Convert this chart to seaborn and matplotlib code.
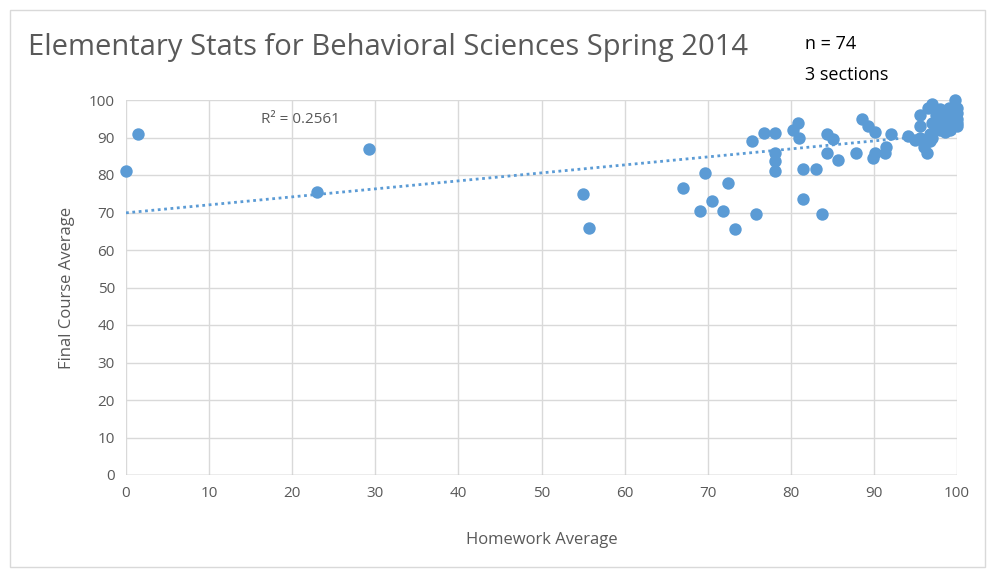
import numpy as np
import pandas as pd
import matplotlib
matplotlib.use("Agg")
import matplotlib.pyplot as plt
import seaborn as sns

homework = [0, 1.5, 23, 29.3, 55, 55.7, 67, 69.1, 69.7, 70.5, 71.8, 72.4, 73.3, 75.8,
            75.3, 76.8, 78.1, 78.1, 78.1, 78.1, 80.3, 80.9, 81, 81.5, 83, 81.5, 83.8,
            84.4, 85.1, 84.4, 85.7, 87.8, 88.6, 89.3, 90.1, 89.9, 90.1, 91.3, 91.4, 92,
            94.1, 94.9, 96.4, 99.8, 97, 96.5, 95.6, 97, 95.6, 98.8, 100, 100, 99.2, 98,
            96.8, 95.6, 96.8, 97.5, 98, 98.5, 99, 99.5, 100, 100, 98, 99, 97.5, 98.5,
            97, 96, 99.5, 98.5, 100, 97.8]
final = [81, 91, 75.5, 87, 75, 66, 76.5, 70.5, 80.5, 73, 70.5, 78, 65.5, 69.5,
         89, 91.3, 91.3, 86, 83.7, 81, 92, 94, 90, 81.5, 81.5, 73.5, 69.5,
         91, 89.5, 86, 84, 86, 95, 93, 91.5, 84.5, 86, 86, 87.5, 91,
         90.3, 89.3, 86, 100, 99, 98, 96, 94, 93, 97, 98, 95, 92, 92,
         91, 90, 89, 96, 95, 94, 96, 94, 96.5, 93, 97.5, 98, 92.5, 91.5,
         90, 87.5, 97, 93, 94, 94.5]
x_ticks = list(range(0, 101, 10))
y_ticks = list(range(0, 101, 10))

title = "Elementary Stats for Behavioral Sciences Spring 2014"
note_lines = ["n = 74", "3 sections"]
r2_label = "R² = 0.2561"
x_label = "Homework Average"
y_label = "Final Course Average"

df = pd.DataFrame({"hw": homework, "final": final})

sns.set_theme(style="whitegrid")
plt.rcParams["font.family"] = ["Open Sans", "DejaVu Sans"]

W, H = 988, 577
fig = plt.figure(figsize=(W / 100, H / 100), dpi=100)
ax = fig.add_axes([126 / W, 1 - 475 / H, (957 - 126) / W, (475 - 100) / H])

blue = "#5B9BD5"
gray_text = "#595959"

sns.scatterplot(data=df, x="hw", y="final", ax=ax, color=blue, s=80,
                edgecolor=blue, linewidth=0, clip_on=False, zorder=3)
sns.regplot(data=df, x="hw", y="final", ax=ax, scatter=False, ci=None, truncate=True,
            line_kws={"color": blue, "ls": (0, (1, 1.3)), "lw": 2.0, "zorder": 2})

ax.set_xlim(0, 100)
ax.set_ylim(0, 100)
ax.set_xticks(x_ticks)
ax.set_yticks(y_ticks)
ax.grid(True, color="#D9D9D9", lw=1)
for s in ax.spines.values():
    s.set_visible(False)
ax.axhline(0, color="#BFBFBF", lw=1, zorder=1)
ax.tick_params(axis="both", colors=gray_text, labelsize=11, length=0, pad=8)
ax.set_xlabel(x_label, color=gray_text, fontsize=12, labelpad=22)
ax.set_ylabel(y_label, color=gray_text, fontsize=12, labelpad=10)

ax.text(21, 94.7, r2_label, fontsize=11, color=gray_text, ha="center", va="center")

fig.text(28 / W, 1 - 47 / H, title, fontsize=21, color=gray_text, va="center", ha="left")
fig.text(805 / W, 1 - 44 / H, note_lines[0], fontsize=13, color="black", va="center", ha="left")
fig.text(805 / W, 1 - 75 / H, note_lines[1], fontsize=13, color="black", va="center", ha="left")

border = plt.Rectangle((10 / W, 10 / H), 975 / W, 557 / H, transform=fig.transFigure,
                       fill=False, edgecolor="#D9D9D9", lw=1)
fig.add_artist(border)

fig.savefig("out.png", dpi=100, facecolor="white")
